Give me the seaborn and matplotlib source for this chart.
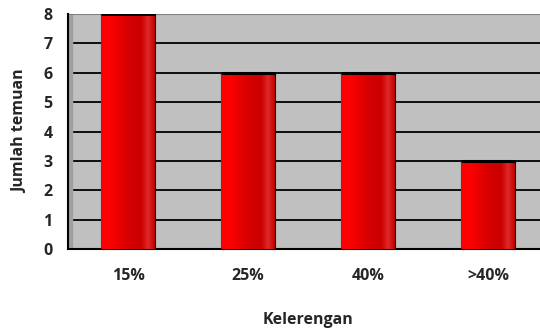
import numpy as np
import pandas as pd
import matplotlib
matplotlib.use("Agg")
import matplotlib.pyplot as plt
import seaborn as sns
from matplotlib.colors import LinearSegmentedColormap

# Data
kelerengan = ["15%", "25%", "40%", ">40%"]
jumlah = [8, 6, 6, 3]

df = pd.DataFrame({"Kelerengan": kelerengan, "Jumlah temuan": jumlah})

sns.set_style("white")
plt.rcParams["font.family"] = ["Open Sans", "DejaVu Sans"]
plt.rcParams["font.weight"] = "bold"
plt.rcParams["axes.labelweight"] = "bold"

fig = plt.figure(figsize=(5.4, 3.32), dpi=100)
ax = fig.add_axes([68 / 540, 83 / 332, 480 / 540, 235 / 332])
ax.set_facecolor("#C0C0C0")

sns.barplot(data=df, x="Kelerengan", y="Jumlah temuan", color="#FF0000",
            width=0.45, edgecolor="black", linewidth=0.8, ax=ax, zorder=3)

# cylinder-like shading on each bar
cmap = LinearSegmentedColormap.from_list(
    "cyl", ["#F80000", "#FF0000", "#F40000", "#E60000", "#D80000", "#D00000",
            "#CC0000", "#E02828", "#C00000"])
grad = np.linspace(0, 1, 256).reshape(1, -1)
for p in ax.patches:
    x0, w, h = p.get_x(), p.get_width(), p.get_height()
    im = ax.imshow(grad, cmap=cmap, extent=[x0, x0 + w, 0, h], aspect="auto",
                   zorder=3.5, interpolation="bilinear")
    im.set_clip_path(p)
    ax.plot([x0, x0 + w], [h, h], color="black", lw=2.2, zorder=4,
            solid_capstyle="butt")

ax.set_xlim(-0.5, 3.5)
ax.set_ylim(0, 8)
ax.set_yticks(range(0, 9))
ax.yaxis.grid(True, color="black", lw=1.3, zorder=1)
ax.set_axisbelow(True)

# ticks between categories on x
ax.set_xticks([0, 1, 2, 3])
ax.set_xticks([-0.5, 0.5, 1.5, 2.5], minor=True)
ax.tick_params(axis="x", which="major", length=0, pad=14)
ax.tick_params(axis="x", which="minor", length=5, width=1.2, color="black", direction="out")
ax.tick_params(axis="y", length=5, width=1.2, color="black", direction="out", pad=6)

for lab in ax.get_xticklabels() + ax.get_yticklabels():
    lab.set_fontweight("bold")
    lab.set_fontsize(11.5)

ax.set_xlabel("Kelerengan", fontsize=11.5, fontweight="bold", labelpad=20)
ax.set_ylabel("Jumlah temuan", fontsize=11.5, fontweight="bold", labelpad=11)

for s in ["top", "right"]:
    ax.spines[s].set_visible(False)
ax.spines["left"].set_color("black")
ax.spines["left"].set_linewidth(1.5)
ax.spines["bottom"].set_color("black")
ax.spines["bottom"].set_linewidth(1.5)
ax.axhline(8, color="#808080", lw=1.5, zorder=2)
ax.axvspan(-0.5, -0.47, color="#A0A0A0", zorder=1.5)

fig.savefig("out.png", dpi=100)
